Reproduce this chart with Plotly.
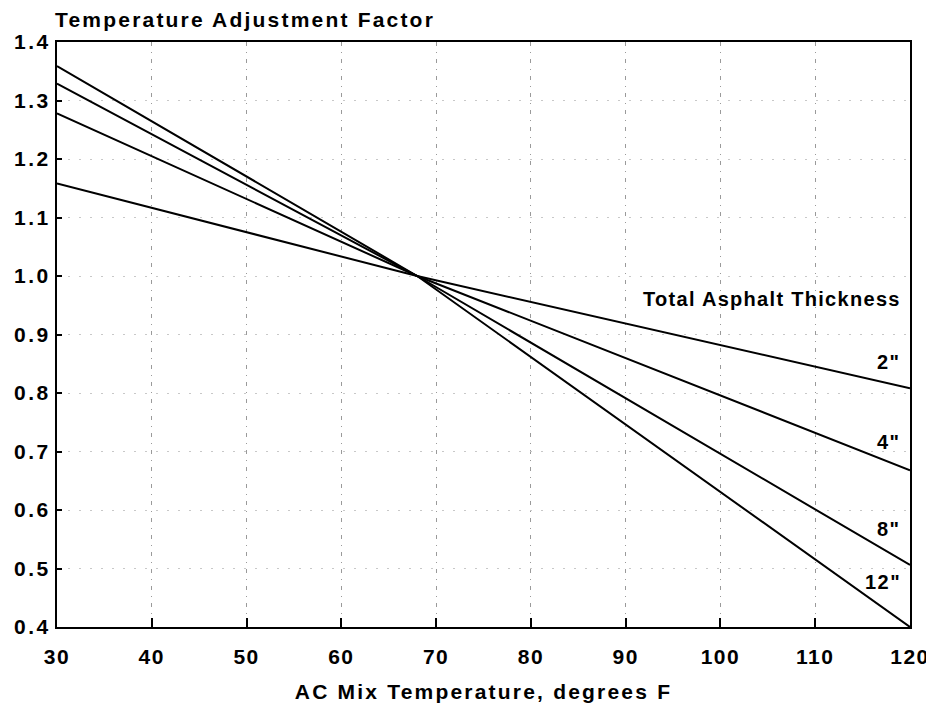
import plotly.graph_objects as go

temps = [30, 68, 120]
thickness_labels = ['2"', '4"', '8"', '12"']
factor_2in = [1.158, 1.0, 0.808]
factor_4in = [1.278, 1.0, 0.668]
factor_8in = [1.329, 1.0, 0.506]
factor_12in = [1.359, 1.0, 0.400]
series = [factor_2in, factor_4in, factor_8in, factor_12in]
label_y = [0.853, 0.717, 0.568, 0.477]

x_ticks = [30, 40, 50, 60, 70, 80, 90, 100, 110, 120]
y_ticks = [0.4, 0.5, 0.6, 0.7, 0.8, 0.9, 1.0, 1.1, 1.2, 1.3, 1.4]

FONT = "Liberation Sans, Arial, sans-serif"


def sp(text, ls=2):
    return f'<span style="letter-spacing:{ls}px"><b>{text}</b></span>'


fig = go.Figure()
for name, vals in zip(thickness_labels, series):
    fig.add_trace(go.Scatter(x=temps, y=vals, mode="lines", name=name,
                             line=dict(color="black", width=2), showlegend=False))

for name, ly in zip(thickness_labels, label_y):
    fig.add_annotation(x=119.3, y=ly, xref="x", yref="y", text=sp(name, 1.5),
                       showarrow=False, xanchor="right", yanchor="middle",
                       font=dict(family=FONT, size=20, color="black"))

fig.add_annotation(x=119.3, y=0.961, xref="x", yref="y", text=sp("Total Asphalt Thickness", 1.3),
                   showarrow=False, xanchor="right", yanchor="middle",
                   font=dict(family=FONT, size=20, color="black"))

fig.add_annotation(x=0, y=1.0, xref="paper", yref="paper", xshift=-4, yshift=23,
                   text=sp("Temperature Adjustment Factor", 2.2), showarrow=False,
                   xanchor="left", yanchor="middle",
                   font=dict(family=FONT, size=21, color="black"))

# page body has an 8px margin, so the figure is sized/offset to fill the 934x705 window
fig.update_layout(
    width=926, height=697,
    margin=dict(l=49, r=24, t=34, b=78),
    paper_bgcolor="white", plot_bgcolor="white",
    font=dict(family=FONT, color="black"),
)
fig.update_xaxes(
    range=[30, 120], tickvals=x_ticks, ticktext=[sp(v, 1.5) for v in x_ticks],
    tickfont=dict(family=FONT, size=21, color="black"),
    ticks="inside", ticklen=9, tickwidth=2, tickcolor="black",
    ticklabelstandoff=10, automargin=False,
    showline=True, linecolor="black", linewidth=2, mirror=True,
    showgrid=True, gridcolor="#9a9a9a", gridwidth=1, griddash="4px,6px,1px,6px",
    zeroline=False,
    title=dict(text=sp("AC Mix Temperature, degrees F", 2.2),
               font=dict(family=FONT, size=21, color="black"), standoff=17),
)
fig.update_yaxes(
    range=[0.4, 1.4], tickvals=y_ticks, ticktext=[sp(f"{v:.1f}", 2.5) for v in y_ticks],
    tickfont=dict(family=FONT, size=21, color="black"),
    ticks="inside", ticklen=5, tickwidth=1.5, tickcolor="black",
    ticklabelstandoff=0, automargin=False,
    showline=True, linecolor="black", linewidth=2, mirror=True,
    showgrid=True, gridcolor="#c8c8c8", gridwidth=1, griddash="2px,9px",
    zeroline=False,
)

fig.write_html("out.html")
